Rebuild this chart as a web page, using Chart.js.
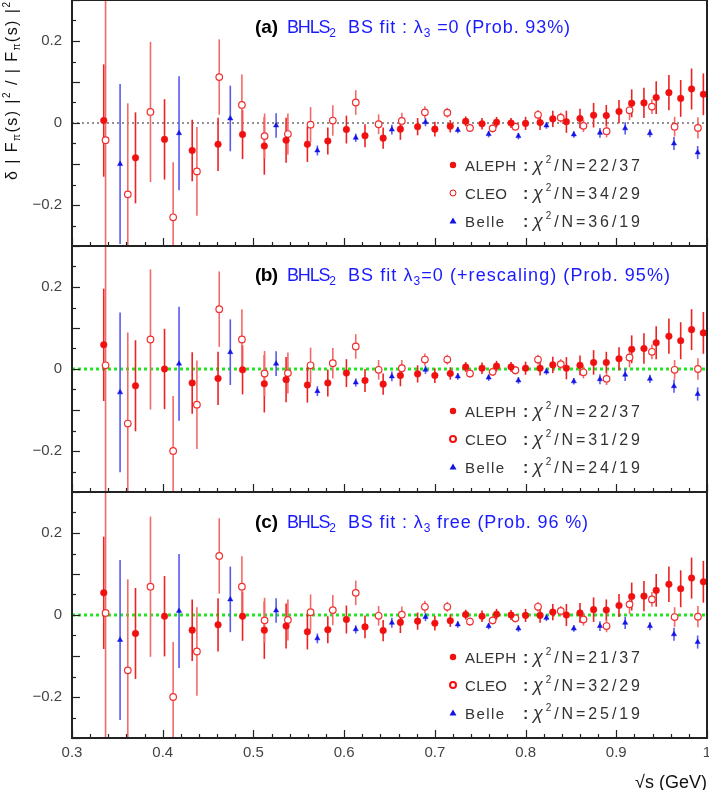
<!DOCTYPE html>
<html>
<head>
<meta charset="utf-8">
<title>BHLS2 BS fit residuals</title>
<script src="https://cdn.jsdelivr.net/npm/chart.js@4.4.1/dist/chart.umd.min.js"></script>
<style>
  body { margin: 0; background: #fff; }
  #wrap { position: relative; width: 709px; height: 790px; overflow: hidden; }
  #wrap canvas { position: absolute; left: 0; }
</style>
</head>
<body>
<div id="wrap">
  <canvas id="panelA" width="709" height="247" style="top:0"></canvas>
  <canvas id="panelB" width="709" height="247" style="top:246px"></canvas>
  <canvas id="panelC" width="709" height="298" style="top:492px"></canvas>
</div>
<script>
// ALEPH : energies (GeV), residuals for fits (a), (b), (c), and error bars
const alephS = [0.335, 0.370, 0.402, 0.4325, 0.461, 0.488, 0.512, 0.536, 0.5595, 0.582, 0.6025, 0.623, 0.643, 0.662, 0.681, 0.700, 0.717, 0.734, 0.752, 0.768, 0.784, 0.800, 0.816, 0.830, 0.845, 0.860, 0.875, 0.889, 0.903, 0.917, 0.9305, 0.944, 0.958, 0.971, 0.983, 0.996];
const alephA = [0.006, -0.085, -0.040, -0.067, -0.052, -0.028, -0.056, -0.042, -0.052, -0.044, -0.016, -0.031, -0.037, -0.015, -0.009, -0.015, -0.008, 0.004, -0.002, 0.002, 0, -0.001, 0.001, 0.010, 0.003, 0.011, 0.019, 0.018, 0.028, 0.048, 0.049, 0.062, 0.074, 0.060, 0.083, 0.070];
const alephB = [0.059, -0.041, 0, -0.034, -0.023, -0.002, -0.036, -0.026, -0.039, -0.034, -0.010, -0.028, -0.037, -0.016, -0.012, -0.016, -0.011, 0.005, 0.002, 0.007, 0.005, 0.002, 0.002, 0.010, 0.002, 0.009, 0.016, 0.016, 0.025, 0.048, 0.050, 0.064, 0.080, 0.069, 0.096, 0.088];
const alephC = [0.054, -0.045, -0.003, -0.037, -0.024, -0.003, -0.037, -0.027, -0.041, -0.036, -0.011, -0.029, -0.038, -0.018, -0.015, -0.020, -0.014, 0.001, -0.003, 0.002, 0, -0.001, -0.001, 0.007, 0, 0.005, 0.013, 0.012, 0.023, 0.045, 0.046, 0.060, 0.075, 0.064, 0.090, 0.081];
const alephErr = [0.137, 0.111, 0.098, 0.075, 0.065, 0.06, 0.07, 0.055, 0.043, 0.033, 0.034, 0.028, 0.026, 0.026, 0.021, 0.018, 0.015, 0.012, 0.014, 0.013, 0.012, 0.016, 0.018, 0.02, 0.027, 0.024, 0.03, 0.026, 0.028, 0.034, 0.037, 0.04, 0.043, 0.045, 0.05, 0.051];

// CLEO
const cleoS = [0.337, 0.3615, 0.3865, 0.4115, 0.4377, 0.4623, 0.4873, 0.5123, 0.538, 0.563, 0.5875, 0.6128, 0.638, 0.6636, 0.689, 0.7137, 0.7387, 0.7637, 0.7888, 0.8137, 0.8388, 0.8638, 0.8893, 0.9146, 0.9393, 0.9643, 0.990];
const cleoA = [-0.042, -0.174, 0.027, -0.23, -0.118, 0.112, 0.044, -0.032, -0.027, -0.004, 0.006, 0.050, -0.003, 0.005, 0.026, 0.025, -0.012, -0.013, -0.009, 0.020, 0.013, -0.007, -0.020, 0.031, 0.040, -0.009, -0.012];
const cleoB = [0.009, -0.133, 0.072, -0.20, -0.087, 0.146, 0.072, -0.011, -0.010, 0.009, 0.014, 0.055, -0.002, 0.002, 0.023, 0.023, -0.011, -0.007, -0.003, 0.023, 0.012, -0.008, -0.024, 0.028, 0.042, -0.002, 0];
const cleoC = [0.005, -0.135, 0.069, -0.20, -0.089, 0.144, 0.069, -0.013, -0.012, 0.007, 0.012, 0.054, -0.002, 0.001, 0.020, 0.020, -0.016, -0.013, -0.008, 0.020, 0.010, -0.011, -0.027, 0.026, 0.038, -0.005, -0.004];
const cleoErr = [0.5, 0.222, 0.171, 0.134, 0.108, 0.092, 0.074, 0.055, 0.05, 0.043, 0.037, 0.03, 0.024, 0.02, 0.015, 0.012, 0.01, 0.01, 0.01, 0.012, 0.012, 0.015, 0.015, 0.024, 0.018, 0.024, 0.026];

// Belle
const belleS = [0.353, 0.418, 0.4745, 0.525, 0.5705, 0.6128, 0.6526, 0.6897, 0.7253, 0.7593, 0.7921, 0.823, 0.8532, 0.882, 0.9098, 0.9371, 0.9636, 0.9897];
const belleA = [-0.100, -0.025, 0.011, -0.006, -0.067, -0.036, -0.016, 0.002, -0.017, -0.027, -0.032, -0.006, -0.028, -0.024, -0.013, -0.025, -0.050, -0.072];
const belleB = [-0.057, 0.013, 0.041, 0.013, -0.054, -0.033, -0.018, -0.002, -0.018, -0.021, -0.028, -0.006, -0.030, -0.025, -0.014, -0.024, -0.042, -0.061];
const belleC = [-0.061, 0.010, 0.038, 0.011, -0.057, -0.035, -0.019, -0.005, -0.023, -0.027, -0.033, -0.007, -0.033, -0.027, -0.019, -0.027, -0.047, -0.066];
const belleErr = [0.195, 0.139, 0.08, 0.03, 0.012, 0.01, 0.012, 0.01, 0.008, 0.008, 0.008, 0.008, 0.008, 0.012, 0.015, 0.01, 0.016, 0.016];

// chi2/N quoted in each panel (ALEPH, CLEO, Belle)
const chi2A = ['22/37', '34/29', '36/19'];
const chi2B = ['22/37', '31/29', '24/19'];
const chi2C = ['21/37', '32/29', '25/19'];

// axis labels
const yTickValues = [-0.2, 0, 0.2];
const yTickText = ['\u22120.2', '0', '0.2'];
const xTickValues = [0.3, 0.4, 0.5, 0.6, 0.7, 0.8, 0.9, 1.0];
const xTickText = ['0.3', '0.4', '0.5', '0.6', '0.7', '0.8', '0.9', '1'];

const F = '"Liberation Sans", Arial, sans-serif';
const BLUE = '#1a1aff';
Chart.defaults.font.family = F;

// draw a run of text pieces, optionally spread out to a given total width
function richWidth(ctx, parts) {
    let w = 0;
    parts.forEach(p => { ctx.font = p.font; w += ctx.measureText(p.t).width; });
    return w;
}
function drawRich(ctx, x, y, parts, width) {
    const n = parts.reduce((k, p) => k + [...p.t].length, 0);
    const extra = width ? (width - richWidth(ctx, parts)) / Math.max(1, n - 1) : 0;
    ctx.textAlign = 'left';
    ctx.textBaseline = 'alphabetic';
    parts.forEach(p => {
        ctx.font = p.font;
        ctx.fillStyle = p.color;
        for (const ch of p.t) {
            ctx.fillText(ch, x, y + (p.dy || 0));
            x += ctx.measureText(ch).width + extra;
        }
    });
}

function series(label, xs, ys, errs, style) {
    return Object.assign({
        label: label,
        data: xs.map((s, i) => ({ x: s, y: ys[i], err: errs[i] })),
        showLine: false
    }, style);
}

// frame, inside ticks, zero line, error bars, titles and legend
function makeDecor(cfg) {
    return {
        id: 'decor',
        beforeDatasetsDraw(chart) {
            const { ctx, chartArea: a, scales: { y } } = chart;
            ctx.save();
            ctx.beginPath();
            ctx.rect(a.left, a.top, a.right - a.left, a.bottom - a.top);
            ctx.clip();
            const y0 = y.getPixelForValue(0);
            ctx.strokeStyle = cfg.zeroColor;
            ctx.lineWidth = cfg.zeroWidth;
            ctx.setLineDash(cfg.zeroDash);
            ctx.beginPath();
            ctx.moveTo(a.left, y0);
            ctx.lineTo(a.right, y0);
            ctx.stroke();
            ctx.setLineDash([]);
            chart.data.datasets.forEach((ds, di) => {
                const meta = chart.getDatasetMeta(di);
                ctx.strokeStyle = ds.barColor;
                ctx.lineWidth = 1.6;
                meta.data.forEach((pt, i) => {
                    const r = ds.data[i];
                    ctx.beginPath();
                    ctx.moveTo(pt.x, y.getPixelForValue(r.y + r.err));
                    ctx.lineTo(pt.x, y.getPixelForValue(r.y - r.err));
                    ctx.stroke();
                });
            });
            ctx.restore();
        },
        afterDraw(chart) {
            const { ctx, chartArea: a, scales: { x, y } } = chart;
            ctx.save();
            ctx.strokeStyle = '#222';
            ctx.lineWidth = 1.2;
            for (let k = 0; k <= 35; k++) {
                const px = Math.round(x.getPixelForValue(0.3 + k * 0.02)) + 0.5;
                const len = k % 5 === 0 ? 8 : 4;
                ctx.beginPath();
                ctx.moveTo(px, a.bottom);
                ctx.lineTo(px, a.bottom - len);
                ctx.stroke();
            }
            for (let k = 0; k <= 12; k++) {
                const py = Math.round(y.getPixelForValue(-0.3 + k * 0.05)) + 0.5;
                const len = k % 2 === 0 ? 8 : 4;
                ctx.beginPath();
                ctx.moveTo(a.left, py);
                ctx.lineTo(a.left + len, py);
                ctx.stroke();
            }
            ctx.lineWidth = 2;
            ctx.strokeRect(a.left, a.top, a.right - a.left, a.bottom - a.top);

            // tick labels
            ctx.fillStyle = '#444';
            ctx.font = '15px ' + F;
            ctx.textAlign = 'right';
            ctx.textBaseline = 'middle';
            yTickValues.forEach((v, i) => ctx.fillText(yTickText[i], a.left - 10, y.getPixelForValue(v)));
            if (cfg.showX) {
                ctx.textAlign = 'center';
                xTickValues.forEach((v, i) => ctx.fillText(xTickText[i], x.getPixelForValue(v), a.bottom + 15));
            }

            // panel title
            const ty = a.top + cfg.titleY;
            drawRich(ctx, 255, ty, [{ t: cfg.tag, font: 'bold 19px ' + F, color: '#000' }], 23);
            drawRich(ctx, 287, ty, [
                { t: 'BHLS', font: '18px ' + F, color: BLUE },
                { t: '2', font: '12px ' + F, color: BLUE, dy: 4 }
            ], 49);
            drawRich(ctx, 348, ty, cfg.title, cfg.titleW);

            // legend
            const names = ['ALEPH', 'CLEO', 'Belle'];
            const rowY = [165, 193, 221];
            names.forEach((nm, i) => {
                const cy = a.top + rowY[i];
                ctx.fillStyle = i === 2 ? '#1414e6' : '#f01010';
                ctx.strokeStyle = '#f01010';
                if (i === 0) {
                    ctx.beginPath(); ctx.arc(453, cy, 3.2, 0, Math.PI * 2); ctx.fill();
                } else if (i === 1) {
                    ctx.lineWidth = cfg.ringWidth;
                    ctx.beginPath(); ctx.arc(453, cy, 3, 0, Math.PI * 2); ctx.stroke();
                } else {
                    ctx.beginPath();
                    ctx.moveTo(453, cy - 3.5); ctx.lineTo(449.5, cy + 2.5); ctx.lineTo(456.5, cy + 2.5);
                    ctx.closePath(); ctx.fill();
                }
                drawRich(ctx, 465, cy + 5.5, [{ t: nm, font: '15px ' + F, color: '#333' }], [51, 42, 39][i]);
                drawRich(ctx, 523, cy + 5.5, [{ t: ':', font: 'bold 16px ' + F, color: '#333' }]);
                drawRich(ctx, 533, cy + 6, [
                    { t: '\u03c7', font: 'italic 18px ' + F, color: '#333' },
                    { t: '2', font: '10px ' + F, color: '#333', dy: -8 },
                    { t: '/N=' + cfg.chi2[i], font: '16px ' + F, color: '#333' }
                ], 107);
            });

            // y axis title, only once on the top panel
            if (cfg.yTitle) {
                ctx.translate(17, 180);
                ctx.rotate(-Math.PI / 2);
                const f = '16px ' + F, s = '10px ' + F;
                drawRich(ctx, 0, 0, [
                    { t: '\u03b4 | F', font: f, color: '#111' },
                    { t: '\u03c0', font: s, color: '#111', dy: 3 },
                    { t: '(s) |', font: f, color: '#111' },
                    { t: '2', font: s, color: '#111', dy: -7 },
                    { t: ' / | F', font: f, color: '#111' },
                    { t: '\u03c0', font: s, color: '#111', dy: 3 },
                    { t: '(s) |', font: f, color: '#111' },
                    { t: '2', font: s, color: '#111', dy: -7 }
                ], 178);
            }
            ctx.restore();
        }
    };
}

function buildPanel(id, cfg) {
    const datasets = [
        series('ALEPH', alephS, cfg.aleph, alephErr, {
            pointStyle: 'circle', pointRadius: 3.3, backgroundColor: '#f01010',
            borderColor: '#f01010', borderWidth: 0.5, barColor: '#ee2222'
        }),
        series('CLEO', cleoS, cfg.cleo, cleoErr, {
            pointStyle: 'circle', pointRadius: 3.3, backgroundColor: '#ffffff',
            borderColor: '#f03030', borderWidth: 1.2, barColor: '#f46a6a'
        }),
        series('Belle', belleS, cfg.belle, belleErr, {
            pointStyle: 'triangle', pointRadius: 3, backgroundColor: '#1414e6',
            borderColor: '#1414e6', borderWidth: 0.5, barColor: '#5a5aee'
        })
    ];
    return new Chart(document.getElementById(id), {
        type: 'scatter',
        data: { datasets: datasets },
        options: {
            responsive: false,
            animation: false,
            events: [],
            layout: { autoPadding: false, padding: { left: 0, right: 2, top: 0, bottom: cfg.showX ? 0 : 1 } },
            plugins: { legend: { display: false }, tooltip: { enabled: false } },
            scales: {
                x: {
                    type: 'linear', min: 0.3, max: 1.0, display: cfg.showX,
                    grid: { display: false, drawTicks: false }, border: { display: false },
                    ticks: { display: false },
                    title: {
                        display: true, text: '\u221as (GeV)', align: 'end', color: '#111',
                        font: { size: 18, lineHeight: 0.75 }, padding: { top: 0, bottom: 0 }
                    },
                    afterFit: s => { if (cfg.showX) s.height = 52; }
                },
                y: {
                    min: -0.3, max: 0.3,
                    grid: { display: false, drawTicks: false }, border: { display: false },
                    ticks: { display: false },
                    afterFit: s => { s.width = 72; }
                }
            }
        },
        plugins: [makeDecor(cfg)]
    });
}

const T = '18px ' + F, TS = '12px ' + F;
buildPanel('panelA', {
    aleph: alephA, cleo: cleoA, belle: belleA, chi2: chi2A,
    tag: '(a)', titleY: 33, titleW: 222, showX: false, yTitle: true,
    title: [
        { t: 'BS fit : \u03bb', font: T, color: BLUE },
        { t: '3', font: TS, color: BLUE, dy: 4 },
        { t: ' =0 (Prob. 93%)', font: T, color: BLUE }
    ],
    zeroColor: '#222', zeroWidth: 1, zeroDash: [2, 3], ringWidth: 1
});
buildPanel('panelB', {
    aleph: alephB, cleo: cleoB, belle: belleB, chi2: chi2B,
    tag: '(b)', titleY: 35, titleW: 322, showX: false, yTitle: false,
    title: [
        { t: 'BS fit \u03bb', font: T, color: BLUE },
        { t: '3', font: TS, color: BLUE, dy: 4 },
        { t: '=0 (+rescaling) (Prob. 95%)', font: T, color: BLUE }
    ],
    zeroColor: '#22e622', zeroWidth: 3, zeroDash: [3, 3], ringWidth: 2
});
buildPanel('panelC', {
    aleph: alephC, cleo: cleoC, belle: belleC, chi2: chi2C,
    tag: '(c)', titleY: 36, titleW: 240, showX: true, yTitle: false,
    title: [
        { t: 'BS fit : \u03bb', font: T, color: BLUE },
        { t: '3', font: TS, color: BLUE, dy: 4 },
        { t: ' free (Prob. 96 %)', font: T, color: BLUE }
    ],
    zeroColor: '#22e622', zeroWidth: 3, zeroDash: [3, 3], ringWidth: 2
});
</script>
</body>
</html>
